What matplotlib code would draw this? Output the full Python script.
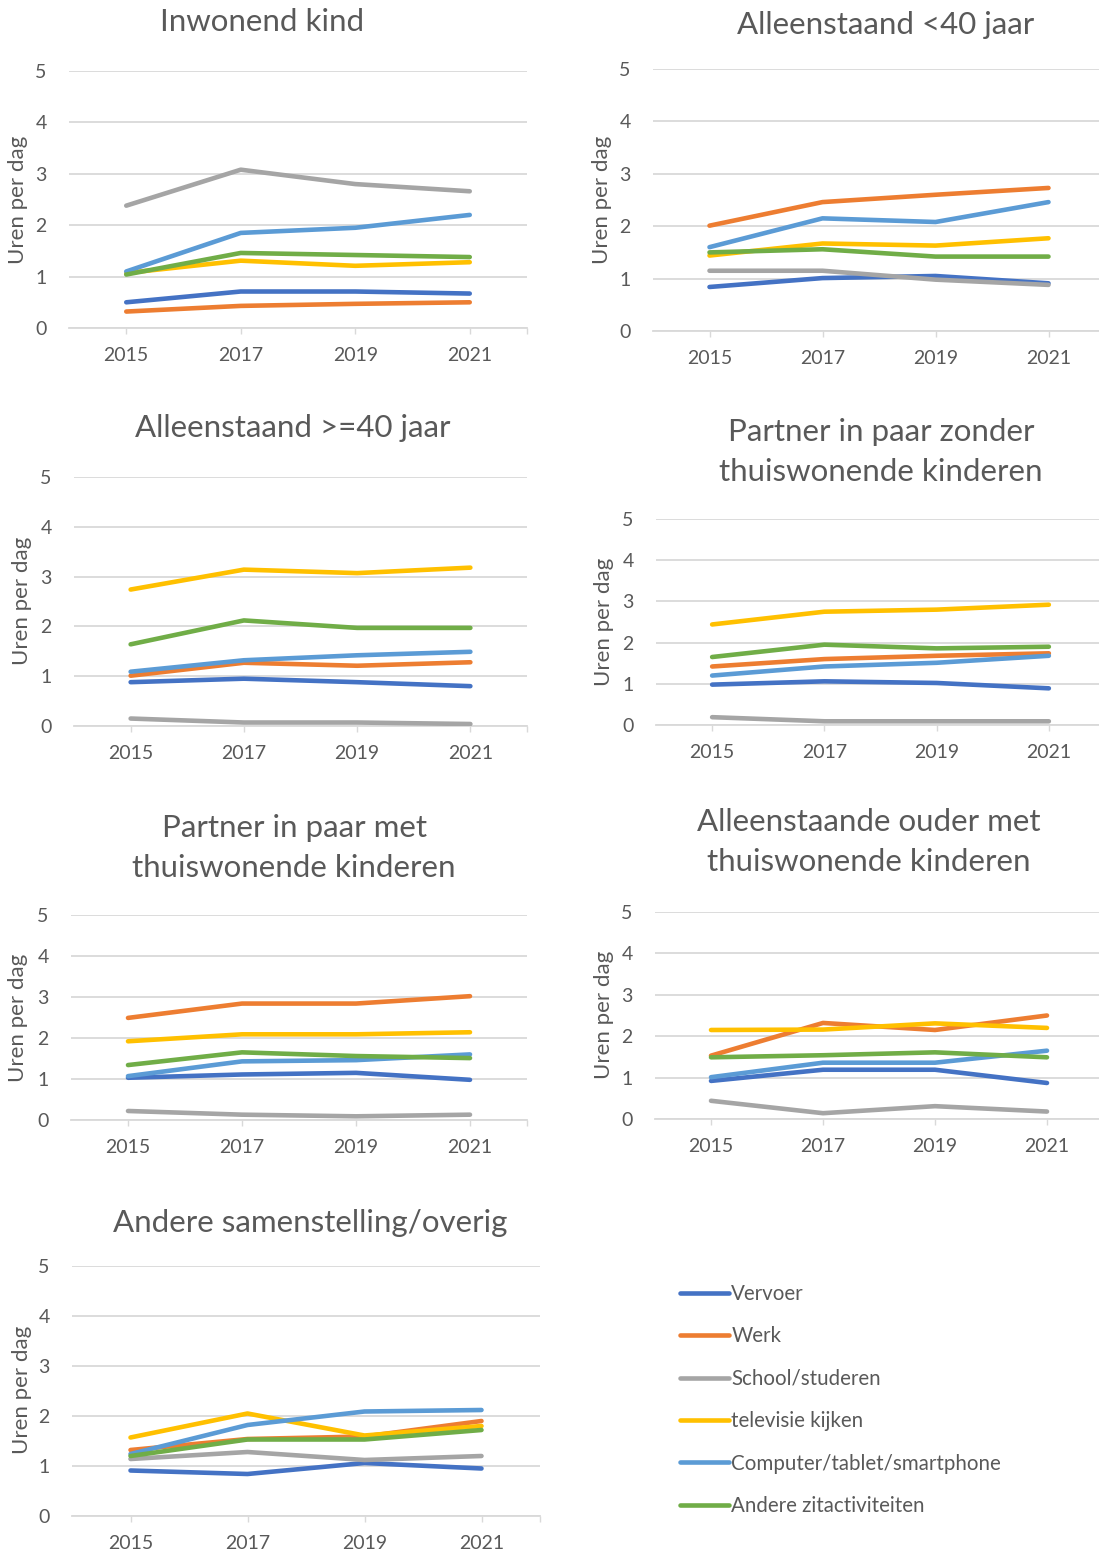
import matplotlib
matplotlib.use("Agg")
import matplotlib.pyplot as plt

plt.rcParams['font.family'] = ['Lato', 'DejaVu Sans']

# Tijdsbesteding per huishoudpositie (uren per dag)
years = [2015, 2017, 2019, 2021]
activities = ["Vervoer", "Werk", "School/studeren", "televisie kijken",
              "Computer/tablet/smartphone", "Andere zitactiviteiten"]
colors = ["#4472C4", "#ED7D31", "#A5A5A5", "#FFC000", "#5B9BD5", "#70AD47"]

titles = ["Inwonend kind", "Alleenstaand <40 jaar", "Alleenstaand >=40 jaar",
          "Partner in paar zonder\nthuiswonende kinderen",
          "Partner in paar met\nthuiswonende kinderen",
          "Alleenstaande ouder met\nthuiswonende kinderen",
          "Andere samenstelling/overig"]

# volgorde: Vervoer, Werk, School, TV, Computer, Andere zit
inwonend_kind = [
    [0.50, 0.71, 0.71, 0.67],
    [0.32, 0.43, 0.47, 0.50],
    [2.38, 3.08, 2.80, 2.66],
    [1.07, 1.31, 1.21, 1.28],
    [1.10, 1.85, 1.95, 2.20],
    [1.04, 1.46, 1.42, 1.38],
]
alleen_jong = [
    [0.84, 1.01, 1.05, 0.91],
    [2.01, 2.46, 2.60, 2.73],
    [1.15, 1.15, 0.98, 0.88],
    [1.44, 1.67, 1.63, 1.77],
    [1.60, 2.15, 2.08, 2.46],
    [1.50, 1.56, 1.42, 1.42],
]
alleen_oud = [
    [0.88, 0.95, 0.88, 0.80],
    [1.01, 1.27, 1.21, 1.28],
    [0.15, 0.07, 0.07, 0.04],
    [2.74, 3.14, 3.07, 3.18],
    [1.09, 1.32, 1.42, 1.49],
    [1.64, 2.12, 1.97, 1.97],
]
paar_zonder = [
    [0.98, 1.06, 1.02, 0.89],
    [1.42, 1.60, 1.68, 1.74],
    [0.19, 0.09, 0.09, 0.09],
    [2.44, 2.75, 2.80, 2.92],
    [1.20, 1.42, 1.51, 1.68],
    [1.65, 1.95, 1.86, 1.90],
]
paar_met = [
    [1.03, 1.11, 1.15, 0.98],
    [2.49, 2.84, 2.84, 3.02],
    [0.22, 0.13, 0.09, 0.13],
    [1.92, 2.09, 2.09, 2.14],
    [1.07, 1.43, 1.46, 1.60],
    [1.34, 1.65, 1.56, 1.51],
]
ouder_met = [
    [0.92, 1.19, 1.19, 0.87],
    [1.53, 2.32, 2.15, 2.50],
    [0.44, 0.14, 0.31, 0.18],
    [2.15, 2.16, 2.31, 2.20],
    [1.01, 1.36, 1.36, 1.65],
    [1.49, 1.54, 1.61, 1.49],
]
overig = [
    [0.91, 0.84, 1.06, 0.95],
    [1.32, 1.54, 1.59, 1.90],
    [1.14, 1.28, 1.12, 1.20],
    [1.57, 2.05, 1.61, 1.80],
    [1.24, 1.82, 2.09, 2.12],
    [1.20, 1.53, 1.53, 1.72],
]
panels = [inwonend_kind, alleen_jong, alleen_oud, paar_zonder,
          paar_met, ouder_met, overig]

W, H = 1099, 1553
fig = plt.figure(figsize=(W / 100, H / 100), dpi=100)
txt = "#595959"
grid = "#D9D9D9"

# plotgebieden in pixels: links, rechts, boven, onder
rects = [(69, 527, 71, 328), (653, 1105, 69, 331), (74, 527, 477, 726),
         (656, 1105, 519, 725), (71, 527, 915, 1120), (655, 1103, 912, 1119),
         (72, 540, 1266, 1516)]
title_pos = [(262, 22), (886, 25), (293, 428), (881, 452), (294, 848),
             (869, 842), (310, 1223)]
ylab_pos = [(18, 200), (602, 200), (22, 601), (604, 622), (18, 1018),
            (604, 1015), (22, 1390)]

lines = []
for i, data in enumerate(panels):
    l, r, t, b = rects[i]
    ax = fig.add_axes([l / W, 1 - b / H, (r - l) / W, (b - t) / H])
    for j, vals in enumerate(data):
        ln, = ax.plot(years, vals, color=colors[j], lw=3.3,
                      solid_capstyle='round', solid_joinstyle='round',
                      label=activities[j], zorder=3)
        if i == 0:
            lines.append(ln)
    ax.set_xlim(2014, 2022)
    ax.set_ylim(0, 5)
    ax.set_yticks(range(6))
    ax.set_xticks(years + [2022])
    ax.set_xticklabels([str(y) for y in years] + [""])
    ax.grid(axis='y', color=grid, lw=1.3, zorder=0)
    for s in ['top', 'right', 'left']:
        ax.spines[s].set_visible(False)
    ax.spines['bottom'].set_color(grid)
    ax.spines['bottom'].set_linewidth(1.3)
    ax.tick_params(axis='y', length=0, pad=16, labelsize=14, labelcolor=txt)
    ax.tick_params(axis='x', length=4, width=1, color=grid, pad=10,
                   labelsize=14, labelcolor=txt)
    ax.set_facecolor('none')
    tx, ty = title_pos[i]
    fig.text(tx / W, 1 - ty / H, titles[i], ha='center', va='center',
             fontsize=22.5, color=txt, linespacing=1.55)
    yx, yy = ylab_pos[i]
    fig.text(yx / W, 1 - yy / H, "Uren per dag", rotation=90, ha='center',
             va='center', fontsize=16, color=txt)

fig.legend(handles=lines, loc='upper left',
           bbox_to_anchor=(680 / W, 1 - 1284 / H), frameon=False,
           fontsize=14.8, labelcolor=txt, handlelength=2.4,
           handletextpad=0.1, labelspacing=1.09, borderpad=0,
           borderaxespad=0)

fig.savefig("out.png", dpi=100, facecolor='white')
